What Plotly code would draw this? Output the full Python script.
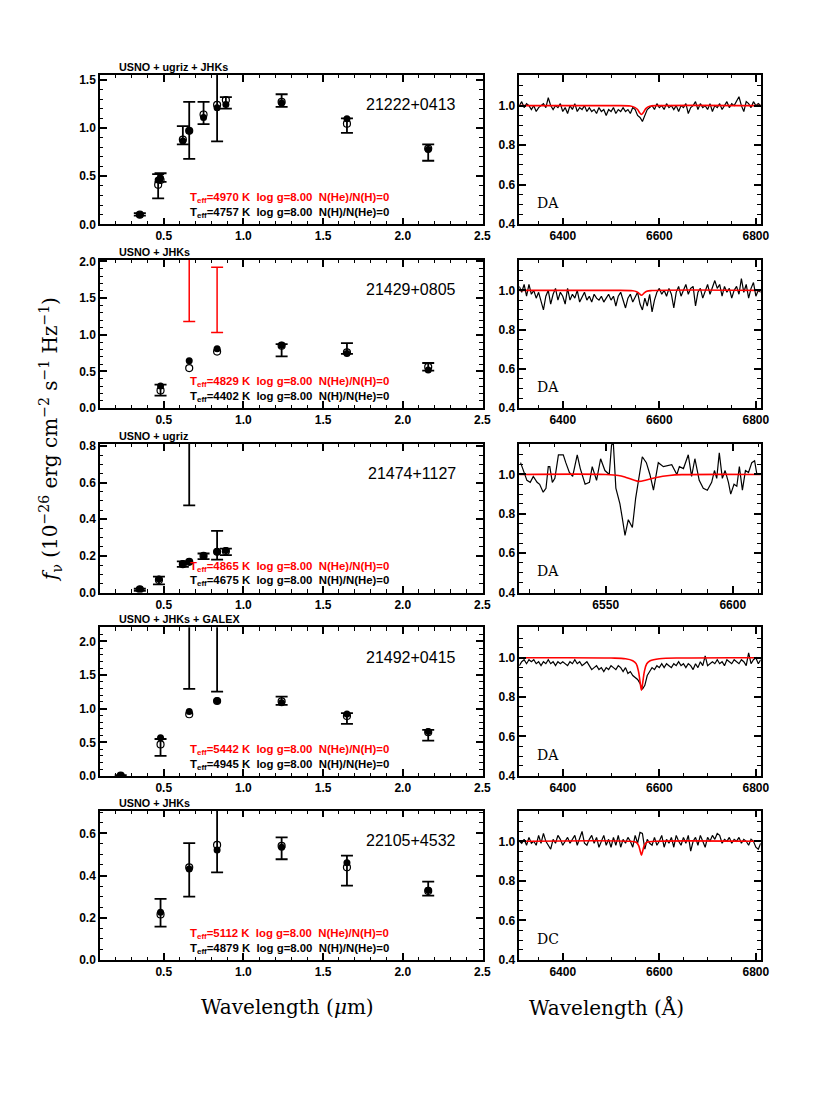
import plotly.graph_objects as go

# ---------------- data ----------------
names = ["21222+0413", "21429+0805", "21474+1127", "21492+0415", "22105+4532"]
surveys = ["USNO + ugriz + JHKs", "USNO + JHKs", "USNO + ugriz", "USNO + JHKs + GALEX", "USNO + JHKs"]
teff_H = [4970, 4829, 4865, 5442, 5112]
teff_He = [4757, 4402, 4675, 4945, 4879]
spec_types = ["DA", "DA", "DA", "DA", "DC"]

# panel 1
p1_wave = [0.35, 0.465, 0.48, 0.62, 0.66, 0.75, 0.835, 0.89, 1.24, 1.65, 2.16]
p1_lo = [0.09, 0.27, 0.44, 0.83, 0.68, 1.04, 0.86, 1.20, 1.22, 0.95, 0.66]
p1_hi = [0.115, 0.52, 0.53, 1.02, 1.27, 1.27, 1.65, 1.32, 1.35, 1.10, 0.83]
p1_H = [0.10, 0.46, 0.48, 0.866, 0.97, 1.11, 1.21, 1.245, 1.26, 1.097, 0.776]
p1_He = [0.10, 0.41, 0.46, 0.88, 0.97, 1.14, 1.24, 1.29, 1.27, 1.045, 0.786]

# panel 2
p2_wave = [0.48, 1.24, 1.65, 2.16]
p2_lo = [0.17, 0.705, 0.74, 0.51]
p2_hi = [0.32, 0.873, 0.885, 0.614]
p2_red_wave = [0.66, 0.835]
p2_red_lo = [1.18, 1.03]
p2_red_hi = [2.30, 1.92]
p2_mwave = [0.48, 0.66, 0.835, 1.24, 1.65, 2.16]
p2_H = [0.30, 0.645, 0.81, 0.855, 0.745, 0.52]
p2_He = [0.24, 0.545, 0.77, 0.85, 0.76, 0.56]

# panel 3
p3_wave = [0.35, 0.47, 0.62, 0.66, 0.75, 0.835, 0.89]
p3_lo = [0.010, 0.045, 0.14, 0.475, 0.182, 0.18, 0.204]
p3_hi = [0.022, 0.087, 0.17, 0.95, 0.213, 0.336, 0.24]
p3_H = [0.018, 0.074, 0.157, 0.168, 0.20, 0.222, 0.23]
p3_He = [0.018, 0.069, 0.155, 0.168, 0.20, 0.222, 0.226]

# panel 4
p4_wave = [0.23, 0.48, 0.66, 0.835, 1.24, 1.65, 2.16]
p4_lo = [0.005, 0.30, 1.295, 1.255, 1.057, 0.774, 0.526]
p4_hi = [0.012, 0.55, 2.50, 2.50, 1.18, 0.933, 0.685]
p4_H = [0.008, 0.57, 0.958, 1.12, 1.09, 0.923, 0.66]
p4_He = [0.005, 0.47, 0.918, 1.115, 1.11, 0.89, 0.65]

# panel 5
p5_wave = [0.48, 0.66, 0.835, 1.24, 1.65, 2.16]
p5_lo = [0.158, 0.30, 0.415, 0.477, 0.352, 0.305]
p5_hi = [0.289, 0.553, 0.80, 0.581, 0.494, 0.371]
p5_H = [0.226, 0.431, 0.521, 0.534, 0.461, 0.33]
p5_He = [0.216, 0.439, 0.545, 0.54, 0.439, 0.327]

# spectra (normalised flux), wavelength grid in Angstrom
spec_grid = list(range(6310, 6811, 5))
s1 = [1.00,1.02,0.99,1.01,1.00,0.98,1.00,0.97,0.99,1.00,
      1.01,0.99,1.04,1.00,0.98,1.00,0.99,1.01,0.97,0.99,
      0.96,1.00,0.98,1.01,0.97,0.99,0.98,1.00,0.97,0.99,
      0.97,0.98,0.96,0.99,0.97,0.98,0.95,0.98,0.97,0.99,
      0.96,0.98,0.97,0.99,0.97,0.98,0.96,0.99,0.98,0.95,
      0.94,0.92,0.95,0.98,0.99,1.00,0.98,1.01,0.99,1.00,
      0.98,1.01,0.99,1.00,0.98,1.00,0.97,1.00,0.99,1.01,
      0.96,0.99,1.00,1.02,0.98,1.01,0.99,1.00,0.98,1.01,
      0.97,1.00,0.99,1.01,0.98,1.00,1.02,0.99,1.01,1.00,
      1.02,1.045,1.00,0.97,1.02,1.01,0.99,1.02,1.00,1.01,
      1.00]
s2 = [1.02,0.99,1.03,0.97,1.03,0.98,1.00,0.96,0.99,0.94,
      0.90,0.97,1.00,0.93,0.98,1.01,0.95,0.99,0.97,0.93,
      1.01,0.95,0.98,0.96,1.00,0.94,0.97,0.99,0.95,0.97,
      0.94,0.98,0.96,0.95,0.97,0.94,0.96,0.98,0.95,0.97,
      0.92,0.97,0.99,0.95,0.91,0.96,0.98,0.94,0.97,0.99,
      0.93,0.90,0.96,0.92,0.98,0.89,0.95,0.99,1.01,0.98,
      1.00,0.97,1.01,0.98,0.91,0.99,1.02,0.97,1.00,1.03,
      0.98,1.01,1.02,0.92,0.99,1.01,0.96,1.00,1.03,0.98,
      1.02,1.05,1.01,1.03,0.97,1.02,0.99,1.01,0.96,1.00,
      1.02,0.98,1.06,0.99,1.03,0.96,1.01,1.04,0.97,1.00,
      0.99]
s3_wave = [6516.5,6517.6,6519,6520.3,6521.5,6523,6524,6525.4,6526.5,6527.4,6528,6529,6530,
           6531.4,6533.3,6534.3,6535.7,6537,6538.8,6540,6541.9,6543.6,6544.7,6546.4,6548,
           6549.7,6551.4,6552.3,6553,6554,6555.6,6556.5,6557.6,6558.9,6560.5,6561.8,6563.1,
           6564.4,6566,6567.4,6568.8,6570.7,6572.7,6576,6578,6579,6580.6,6582.5,6583.8,
           6585.1,6586.8,6588.4,6590,6591.7,6592.8,6593.7,6594.7,6595.9,6597,6598.3,6599.2,
           6600.5,6601.6,6602.6,6603.8,6605,6606.2,6607.5,6608.6,6609.5,6611]
s3 = [1.06,1.02,0.97,0.96,0.99,0.96,0.95,0.91,0.93,1.04,1.04,0.96,0.98,
      1.10,1.10,1.06,1.01,0.99,1.10,1.03,0.95,0.96,1.04,0.97,1.08,
      1.02,1.00,1.15,1.16,0.93,0.85,0.78,0.69,0.77,0.73,0.88,0.98,
      1.09,1.06,1.00,0.92,1.06,1.04,1.05,1.00,1.04,1.03,1.10,0.99,
      1.08,0.97,0.93,0.92,0.96,1.02,0.98,1.11,0.98,1.02,0.96,0.90,
      0.95,0.94,1.04,0.92,1.02,1.01,1.06,1.07,1.00,1.00]
s4 = [0.96,0.98,0.99,0.97,0.99,0.98,0.99,0.97,0.98,0.96,
      0.98,0.97,0.99,0.97,0.98,0.96,0.98,0.97,0.98,0.97,
      0.96,0.98,0.97,0.99,0.97,0.98,0.96,0.97,0.98,0.96,
      0.94,0.95,0.96,0.94,0.95,0.93,0.95,0.94,0.96,0.95,
      0.94,0.96,0.95,0.93,0.95,0.92,0.93,0.91,0.90,0.89,
      0.87,0.84,0.86,0.91,0.93,0.95,0.94,0.96,0.95,0.97,
      0.95,0.97,0.96,0.95,0.97,0.96,0.98,0.96,0.97,0.95,
      0.97,0.96,0.94,0.97,0.95,0.98,0.96,1.01,0.96,0.97,
      0.98,0.97,0.99,0.97,0.98,0.96,0.99,0.98,0.97,0.99,
      0.98,0.97,0.99,0.98,0.96,1.025,0.97,0.99,1.00,0.97,
      0.99]
s5 = [1.00,0.99,1.01,0.98,1.02,0.99,1.00,0.98,1.03,0.99,
      1.04,1.00,0.98,0.96,1.01,0.99,1.03,1.01,0.98,1.00,
      1.02,0.99,1.01,1.03,0.98,1.02,1.05,0.99,0.98,1.01,
      1.03,0.99,1.02,0.97,1.00,1.03,0.98,1.01,0.97,1.02,
      0.98,1.03,0.97,1.01,0.99,1.02,1.00,0.97,1.03,0.99,
      1.045,1.04,0.96,1.01,0.99,0.98,1.02,0.98,1.00,1.03,
      0.97,1.01,0.99,1.02,0.97,1.03,1.00,0.98,1.02,0.99,
      1.03,0.95,1.00,1.02,0.98,1.03,1.00,0.97,1.02,1.00,
      1.03,1.01,1.04,1.03,0.99,1.01,1.00,1.02,0.99,1.01,
      1.00,1.02,0.99,1.01,1.00,0.98,1.01,1.00,0.97,0.96,
      0.99]

# model profiles (red)
m1_wave = [6310, 6500, 6540, 6550, 6555, 6559, 6563, 6567, 6572, 6580, 6600, 6810]
m1 = [1.0, 1.0, 0.998, 0.99, 0.98, 0.965, 0.955, 0.965, 0.985, 0.997, 1.0, 1.0]
m2_wave = [6310, 6500, 6545, 6553, 6558, 6563, 6568, 6574, 6585, 6810]
m2 = [1.0, 1.0, 0.998, 0.993, 0.985, 0.975, 0.985, 0.995, 0.999, 1.0]
m3_wave = [6516, 6550, 6555, 6558, 6561, 6563, 6566, 6570, 6575, 6580, 6611]
m3 = [1.0, 1.0, 0.995, 0.985, 0.972, 0.965, 0.972, 0.985, 0.995, 0.999, 1.0]
m4_wave = [6310, 6500, 6530, 6545, 6552, 6557, 6560, 6563, 6566, 6569, 6574, 6581, 6600, 6650, 6810]
m4 = [1.0, 0.999, 0.995, 0.985, 0.97, 0.93, 0.88, 0.835, 0.88, 0.93, 0.97, 0.985, 0.995, 0.999, 1.0]
m5_wave = [6310, 6540, 6552, 6557, 6560, 6563, 6566, 6569, 6574, 6590, 6810]
m5 = [1.0, 1.0, 0.995, 0.98, 0.955, 0.93, 0.955, 0.98, 0.995, 1.0, 1.0]

# ---------------- layout geometry ----------------
W, H = 830, 1106
LEFT_PX = (100, 482.7)
RIGHT_PX = (519.3, 760.7)
ROWS_PX = [(75, 224.3), (260, 408), (444, 592.6), (627.3, 776), (810.7, 960)]
left_yranges = [[0, 1.55], [0, 2.02], [0, 0.81], [0, 2.21], [0, 0.707]]
left_ydticks = [0.5, 0.5, 0.2, 0.5, 0.2]
left_yminor = [0.1, 0.1, 0.05, 0.1, 0.05]

TICKFONT = dict(family="Liberation Sans, Arial", size=12, color="black", weight="bold")
RED = "#ff0000"

fig = go.Figure()
layout = dict(width=W, height=H, autosize=False, showlegend=False,
              margin=dict(l=0, r=0, t=0, b=0), plot_bgcolor="white", paper_bgcolor="white")

def ax_common():
    return dict(showline=True, linecolor="black", linewidth=1.5, mirror="ticks",
                ticks="inside", ticklen=7, tickwidth=1.5, tickcolor="black",
                showgrid=False, zeroline=False, tickfont=TICKFONT, automargin=False,
                minor=dict(ticks="inside", ticklen=3.5, tickwidth=1.2, tickcolor="black", showgrid=False))

obs_sets = [
    (p1_wave, p1_lo, p1_hi, p1_wave, p1_H, p1_He),
    (p2_wave, p2_lo, p2_hi, p2_mwave, p2_H, p2_He),
    (p3_wave, p3_lo, p3_hi, p3_wave, p3_H, p3_He),
    (p4_wave, p4_lo, p4_hi, p4_wave, p4_H, p4_He),
    (p5_wave, p5_lo, p5_hi, p5_wave, p5_H, p5_He),
]
spec_sets = [
    (spec_grid, s1, m1_wave, m1),
    (spec_grid, s2, m2_wave, m2),
    (s3_wave, s3, m3_wave, m3),
    (spec_grid, s4, m4_wave, m4),
    (spec_grid, s5, m5_wave, m5),
]

annotations = []

def errbar_trace(x, lo, hi, color, xa, ya, thick=1.8):
    return go.Scatter(x=x, y=hi, mode="markers", xaxis=xa, yaxis=ya,
                      marker=dict(size=1, opacity=0),
                      error_y=dict(type="data", symmetric=False, array=[0] * len(x),
                                   arrayminus=[h - l for h, l in zip(hi, lo)],
                                   color=color, thickness=thick, width=6),
                      hoverinfo="skip")

for i in range(5):
    li, ri = 2 * i + 1, 2 * i + 2
    top, bot = ROWS_PX[i]
    ydom = [1 - bot / H, 1 - top / H]
    xl = "x" if li == 1 else f"x{li}"
    yl = "y" if li == 1 else f"y{li}"
    xr, yr = f"x{ri}", f"y{ri}"

    # left axes
    xa = ax_common()
    xa.update(domain=[LEFT_PX[0] / W, LEFT_PX[1] / W], range=[0.1, 2.502], tick0=0, dtick=0.5,
              tickformat=".1f", anchor=yl)
    xa["minor"].update(dtick=0.1, tick0=0)
    ya = ax_common()
    ya.update(domain=ydom, range=left_yranges[i], tick0=0, dtick=left_ydticks[i],
              tickformat=".1f", anchor=xl)
    ya["minor"].update(dtick=left_yminor[i], tick0=0)
    layout["xaxis" if li == 1 else f"xaxis{li}"] = xa
    layout["yaxis" if li == 1 else f"yaxis{li}"] = ya

    # right axes
    xb = ax_common()
    if i == 2:
        xb.update(range=[6516, 6611], tick0=6550, dtick=50)
        xb["minor"].update(dtick=10, tick0=6550)
    else:
        xb.update(range=[6310, 6810], tick0=6400, dtick=200)
        xb["minor"].update(dtick=50, tick0=6400)
    xb.update(domain=[RIGHT_PX[0] / W, RIGHT_PX[1] / W], anchor=yr, tickformat="d")
    yb = ax_common()
    yb.update(domain=ydom, range=[0.399, 1.155], tick0=0.4, dtick=0.2, tickformat=".1f", anchor=xr)
    yb["minor"].update(dtick=0.05, tick0=0.4)
    layout[f"xaxis{ri}"] = xb
    layout[f"yaxis{ri}"] = yb

    # left traces
    w, lo, hi, mw, hm, hem = obs_sets[i]
    fig.add_trace(errbar_trace(w, lo, hi, "black", xl, yl))
    if i == 1:
        fig.add_trace(errbar_trace(p2_red_wave, p2_red_lo, p2_red_hi, RED, xl, yl, thick=1.5))
    fig.add_trace(go.Scatter(x=mw, y=hem, mode="markers", xaxis=xl, yaxis=yl,
                             marker=dict(symbol="circle-open", size=7, color="black",
                                         line=dict(width=1.2, color="black"))))
    fig.add_trace(go.Scatter(x=mw, y=hm, mode="markers", xaxis=xl, yaxis=yl,
                             marker=dict(symbol="circle", size=7, color="black")))

    # right traces
    sw, sf, mw2, mf = spec_sets[i]
    fig.add_trace(go.Scatter(x=sw, y=sf, mode="lines", xaxis=xr, yaxis=yr,
                             line=dict(color="black", width=1.2)))
    fig.add_trace(go.Scatter(x=mw2, y=mf, mode="lines", xaxis=xr, yaxis=yr,
                             line=dict(color=RED, width=1.6, shape="spline")))

    # annotations
    annotations.append(dict(xref=f"{xl} domain", yref=f"{yl} domain", x=0.935, y=0.80,
                            xanchor="right", yanchor="middle", showarrow=False, text=names[i],
                            font=dict(family="Liberation Sans, Arial", size=16, color="black")))
    annotations.append(dict(xref=f"{xl} domain", yref=f"{yl} domain", x=0.044, y=1.0,
                            xanchor="left", yanchor="bottom", showarrow=False, text=surveys[i],
                            font=dict(family="Liberation Sans, Arial", size=10.8, color="black", weight="bold")))
    sp = "\u00a0\u00a0"
    annotations.append(dict(xref=f"{xl} domain", yref=f"{yl} domain", x=0.23, y=0.175,
                            xanchor="left", yanchor="middle", showarrow=False,
                            text=f"T<sub>eff</sub>={teff_H[i]} K{sp}log g=8.00{sp}N(He)/N(H)=0",
                            font=dict(family="Liberation Sans, Arial", size=11.4, color=RED, weight="bold")))
    annotations.append(dict(xref=f"{xl} domain", yref=f"{yl} domain", x=0.23, y=0.075,
                            xanchor="left", yanchor="middle", showarrow=False,
                            text=f"T<sub>eff</sub>={teff_He[i]} K{sp}log g=8.00{sp}N(H)/N(He)=0",
                            font=dict(family="Liberation Sans, Arial", size=11.4, color="black", weight="bold")))
    annotations.append(dict(xref=f"{xr} domain", yref=f"{yr} domain", x=0.065, y=0.143,
                            xanchor="left", yanchor="middle", showarrow=False, text=spec_types[i],
                            font=dict(family="DejaVu Serif", size=14, color="black")))

annotations.append(dict(xref="paper", yref="paper", x=287 / W, y=1 - 1007 / H, showarrow=False,
                        xanchor="center", yanchor="middle",
                        text="Wavelength (<i>\u03bc</i>m)",
                        font=dict(family="DejaVu Serif", size=20, color="black")))
annotations.append(dict(xref="paper", yref="paper", x=606 / W, y=1 - 1007 / H, showarrow=False,
                        xanchor="center", yanchor="middle",
                        text="Wavelength (\u00c5)",
                        font=dict(family="DejaVu Serif", size=20, color="black")))
annotations.append(dict(xref="paper", yref="paper", x=50 / W, y=1 - 440 / H, showarrow=False,
                        xanchor="center", yanchor="middle", textangle=-90,
                        text="<i>f</i><sub>\u03bd</sub> (10<sup>\u221226</sup> erg cm<sup>\u22122</sup> s<sup>\u22121</sup> Hz<sup>\u22121</sup>)",
                        font=dict(family="DejaVu Serif", size=20, color="black")))

layout["annotations"] = annotations
fig.update_layout(**layout)
fig.write_html("out.html", config={"displayModeBar": False},
               post_script="document.body.style.margin='0';document.body.style.padding='0';document.documentElement.style.overflow='hidden';")
